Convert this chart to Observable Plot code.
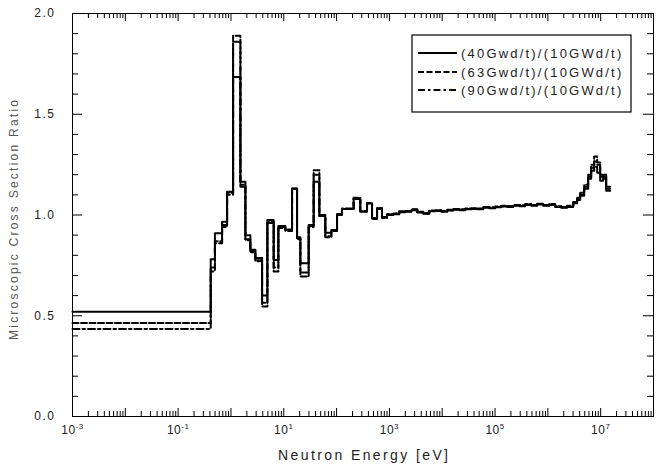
<!DOCTYPE html>
<html><head><meta charset="utf-8">
<script src="https://cdn.jsdelivr.net/npm/d3@7"></script>
<script src="https://cdn.jsdelivr.net/npm/@observablehq/plot@0.6"></script>
<style>
body{margin:0;background:#fff;}
#chart{position:relative;width:658px;height:468px;}
svg text{font-family:"Liberation Sans",Arial,sans-serif;}
</style></head><body><div id="chart"></div>
<script>
// energy group boundaries [eV] (lower bounds + final upper bound)
const energyBounds = [0.001, 0.414, 0.497, 0.68, 0.845, 1.098, 1.51, 1.877, 2.33, 2.90, 3.886, 4.895, 6.44, 7.90, 10.7, 14.35, 17.85, 20.6, 29.6, 36.8, 47.2, 61.2, 79.6, 102, 126.8, 210, 281, 377, 469, 583, 724, 901, 1185, 1539, 1999, 2597, 3372, 4379, 5689, 7388, 9594, 12460, 16180, 21020, 27300, 35450, 46040, 59800, 77670, 100900, 131000, 170100, 221000, 287000, 372700, 484200, 628800, 816600, 1.061e6, 1.377e6, 1.789e6, 2.323e6, 3.017e6, 3.59e6, 4.09e6, 4.87e6, 5.80e6, 6.61e6, 7.53e6, 8.59e6, 9.78e6, 1.114e7, 1.27e7, 1.513e7];

const ratio40 = [0.52, 0.78, 0.91, 0.967, 1.115, 1.685, 1.165, 0.90, 0.827, 0.786, 0.60, 0.975, 0.777, 0.945, 0.928, 1.132, 0.89, 0.76, 0.95, 1.165, 0.995, 0.912, 0.926, 1.005, 1.03, 1.08, 1.016, 1.057, 0.985, 1.03, 0.99,
  1.000,1.004,1.014,1.016,1.024,1.012,1.006,1.018,1.020,1.016,1.022,1.026,1.024,1.028,1.030,1.028,1.036,1.034,1.038,1.042,1.040,1.046,1.044,1.050,1.046,1.052,1.046,1.050,1.040,1.036,1.040,
  1.058, 1.075, 1.095, 1.13, 1.18, 1.22, 1.24, 1.21, 1.17, 1.19, 1.12];

const ratio63 = [0.464, 0.74, 0.87, 0.95, 1.11, 1.89, 1.14, 0.88, 0.82, 0.775, 0.546, 0.965, 0.72, 0.94, 0.925, 1.13, 0.885, 0.695, 0.945, 1.222, 1.0, 0.89, 0.92, 1.0, 1.032, 1.085, 1.02, 1.06, 0.98, 1.035, 0.985,
  1.004,1.008,1.018,1.020,1.028,1.016,1.010,1.022,1.024,1.020,1.026,1.030,1.028,1.032,1.034,1.032,1.040,1.038,1.042,1.046,1.044,1.050,1.048,1.054,1.050,1.056,1.050,1.054,1.044,1.040,1.046,
  1.065, 1.085, 1.11, 1.15, 1.20, 1.25, 1.29, 1.26, 1.20, 1.18, 1.14];

const ratio90 = [0.434, 0.72, 0.86, 0.94, 1.10, 1.86, 1.15, 0.875, 0.815, 0.77, 0.565, 0.96, 0.74, 0.935, 0.92, 1.13, 0.88, 0.715, 0.94, 1.20, 0.995, 0.895, 0.92, 1.0, 1.03, 1.083, 1.018, 1.058, 0.982, 1.033, 0.988,
  1.002,1.006,1.016,1.018,1.026,1.014,1.008,1.020,1.022,1.018,1.024,1.028,1.026,1.030,1.032,1.030,1.038,1.036,1.040,1.044,1.042,1.048,1.046,1.052,1.048,1.054,1.048,1.052,1.042,1.038,1.043,
  1.062, 1.08, 1.10, 1.14, 1.19, 1.235, 1.265, 1.25, 1.19, 1.20, 1.13];

const seriesNames = ["(40Gwd/t)/(10GWd/t)", "(63Gwd/t)/(10GWd/t)", "(90Gwd/t)/(10GWd/t)"];
const seriesDash = [null, "6,2.5", "7,3,2.5,3"];
const yTickLabels = [0, 0.5, 1.0, 1.5, 2.0];
const xLabelExponents = [-3, -1, 1, 3, 5, 7];
const xTitle = "Neutron Energy [eV]";
const yTitle = "Microscopic Cross Section Ratio";

function steps(vals) {
  const rows = vals.map((v, i) => ({E: energyBounds[i], v}));
  rows.push({E: energyBounds[vals.length], v: vals[vals.length - 1]});
  return rows;
}
const series = [ratio40, ratio63, ratio90].map(steps);

const W = 658, H = 468, mL = 72, mR = 5, mT = 13, mB = 52;
const pw = W - mL - mR, ph = H - mT - mB;

const xMajor = d3.range(-3, 9).map(e => Math.pow(10, e));
const xMinor = [];
for (let e = -3; e < 8; e++) for (let k = 2; k <= 9; k++) xMinor.push(k * Math.pow(10, e));
const yMajor = [0, 0.5, 1, 1.5, 2];
const yMinor = d3.range(1, 20).filter(i => i % 5 !== 0).map(i => i / 10);

const plot = Plot.plot({
  width: W, height: H,
  marginLeft: mL, marginRight: mR, marginTop: mT, marginBottom: mB,
  x: {type: "log", domain: [1e-3, 1e8], axis: null},
  y: {domain: [0, 2], axis: null},
  marks: [
    Plot.tickX(xMajor, {x: d => d, insetTop: ph - 8, stroke: "black"}),
    Plot.tickX(xMinor, {x: d => d, insetTop: ph - 5, stroke: "black"}),
    Plot.tickX(xMajor, {x: d => d, insetBottom: ph - 8, stroke: "black"}),
    Plot.tickX(xMinor, {x: d => d, insetBottom: ph - 5, stroke: "black"}),
    Plot.tickY(yMajor, {y: d => d, insetRight: pw - 10, stroke: "black"}),
    Plot.tickY(yMinor, {y: d => d, insetRight: pw - 6, stroke: "black"}),
    Plot.tickY(yMajor, {y: d => d, insetLeft: pw - 10, stroke: "black"}),
    Plot.tickY(yMinor, {y: d => d, insetLeft: pw - 6, stroke: "black"}),
    Plot.line(series[2], {x: "E", y: "v", curve: "step-after", stroke: "black", strokeWidth: 2, strokeDasharray: seriesDash[2]}),
    Plot.line(series[1], {x: "E", y: "v", curve: "step-after", stroke: "black", strokeWidth: 2, strokeDasharray: seriesDash[1]}),
    Plot.line(series[0], {x: "E", y: "v", curve: "step-after", stroke: "black", strokeWidth: 2}),
    Plot.frame({stroke: "black", strokeWidth: 1}),
    Plot.text(yTickLabels, {y: d => d, frameAnchor: "left", dx: -17, textAnchor: "end", text: d => d.toFixed(1), fontSize: 12, fill: "#222"}),
    Plot.text(xLabelExponents, {x: d => Math.pow(10, d), frameAnchor: "bottom", dy: 17, text: d => "10^" + d, fontSize: 12, fill: "#222"}),
    Plot.text([xTitle], {frameAnchor: "bottom", dy: 43, text: d => d, fontSize: 14, fill: "#222"}),
    Plot.text([yTitle], {frameAnchor: "left", dx: -58, dy: 125, rotate: -90, textAnchor: "start", text: d => d, fontSize: 12, fill: "#555"})
  ]
});
document.getElementById("chart").appendChild(plot);

const svg = d3.select(plot);
svg.selectAll("text").each(function() {
  const t = d3.select(this);
  const s = t.text();
  if (s.includes("^")) {
    const [base, ex] = s.split("^");
    t.text(null);
    t.style("letter-spacing", "0.5px");
    t.append("tspan").text(base);
    t.append("tspan").attr("font-size", 8).attr("dy", "-0.55em").text(ex);
  } else if (/^\d\.\d$/.test(s)) {
    t.style("letter-spacing", "1.5px");
  } else if (s === xTitle) {
    t.attr("textLength", 170).attr("lengthAdjust", "spacing");
  } else if (s === yTitle) {
    t.attr("text-anchor", "start").attr("textLength", 240).attr("lengthAdjust", "spacing");
  }
});

// legend
const lg = svg.append("g");
lg.append("rect").attr("x", 412).attr("y", 35).attr("width", 219).attr("height", 77)
  .attr("fill", "white").attr("stroke", "black").attr("stroke-width", 1.2);
const rowsY = [53, 72, 90];
seriesNames.forEach((name, i) => {
  const ln = lg.append("line").attr("x1", 418).attr("x2", 457).attr("y1", rowsY[i]).attr("y2", rowsY[i])
    .attr("stroke", "black").attr("stroke-width", 2);
  if (seriesDash[i]) ln.attr("stroke-dasharray", seriesDash[i]);
  lg.append("text").attr("x", 461).attr("y", rowsY[i]).attr("dy", "0.35em")
    .attr("text-anchor", "start").attr("font-size", 13).attr("fill", "#222")
    .style("letter-spacing", "2.2px").text(name);
});
</script></body></html>
